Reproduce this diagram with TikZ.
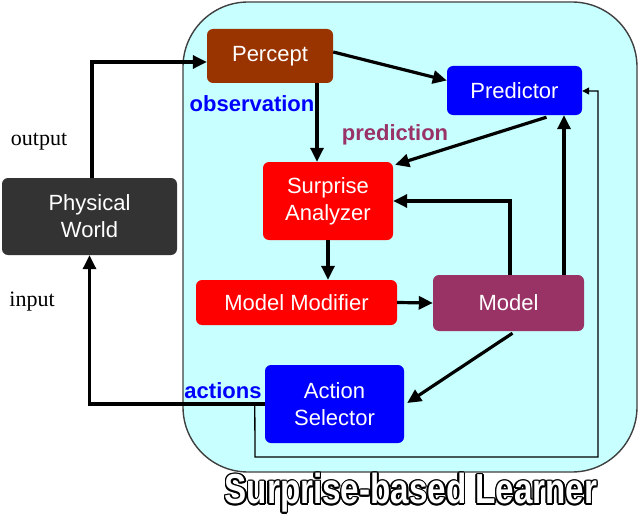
\documentclass[tikz,border=0pt]{standalone}
\usepackage{fontspec}
\setmainfont{Liberation Sans}
\newfontfamily\serifface{Liberation Serif}
\usetikzlibrary{arrows.meta,calc}
\definecolor{cyanfill}{HTML}{C8FFFF}
\definecolor{brownbox}{HTML}{993300}
\definecolor{bluebox}{HTML}{0000FF}
\definecolor{redbox}{HTML}{FF0000}
\definecolor{plumbox}{HTML}{993366}
\definecolor{darkbox}{HTML}{333333}
\newcommand\ttltext{\scalebox{0.79}[1]{\fontsize{42}{42}\selectfont\bfseries Surprise-based Learner}}
\begin{document}
\begin{tikzpicture}[x=1pt,y=-1pt,
  box/.style={rectangle, rounded corners=6pt, text=white, align=center, inner sep=0pt,
    font=\fontsize{22}{27}\selectfont},
  arr/.style={line width=3.2pt, -{Triangle[length=14pt,width=13pt]}},
  thinarr/.style={line width=1.3pt, -{Triangle[length=7pt,width=7pt]}},
  lbl/.style={font=\fontsize{22}{26}\selectfont\bfseries, inner sep=0pt},
  slbl/.style={font=\serifface\fontsize{22}{26}\selectfont, inner sep=0pt}]
\useasboundingbox (0,0) rectangle (640,519);
\node[draw=black!75, line width=1.4pt, fill=cyanfill, rounded corners=65pt,
  minimum width=454pt, minimum height=470pt, inner sep=0pt] (learner) at (410,237) {};
\node[box, fill=brownbox, minimum width=126pt, minimum height=54pt] (percept) at (270,56) {Percept};
\node[box, fill=bluebox, minimum width=135pt, minimum height=49pt] (predictor) at (514.5,90.5) {Predictor};
\node[box, fill=redbox, minimum width=130pt, minimum height=78pt] (surprise) at (328,201) {Surprise\\Analyzer};
\node[box, fill=redbox, minimum width=201pt, minimum height=45pt] (modmod) at (296.5,302.5) {Model Modifier};
\node[box, fill=plumbox, minimum width=151pt, minimum height=56pt] (model) at (508.5,303) {Model};
\node[box, fill=bluebox, minimum width=139pt, minimum height=78pt] (action) at (334.5,404) {Action\\Selector};
\node[box, fill=darkbox, minimum width=175pt, minimum height=77pt] (phys) at (89.5,216.5) {Physical\\World};
% labels
\node[lbl, text=bluebox] (obs) at (252,104) {observation};
\node[lbl, text=plumbox] (pred) at (395,135) {prediction};
\node[lbl, text=bluebox] (acts) at (223,391) {actions};
\node[slbl] (outl) at (39,142) {output};
\node[slbl] (inl) at (32,302) {input};
% connectors
\draw[arr] ([xshift=2.5pt]phys.north) |- ([yshift=-6pt]percept.west);
\draw[arr] (action.west) -| (phys.south);
\draw[arr] ([yshift=4pt]percept.east) -- ([yshift=10pt]predictor.west);
\coordinate (obsTop) at ($(percept.south)+(47,0)$);
\draw[arr] (obsTop) -- (obsTop |- surprise.north);
\draw[arr] ($(predictor.south)+(32,2)$) -- ($(surprise.north east)+(2,3)$);
\draw[arr] (surprise.south) -- (surprise.south |- modmod.north);
\draw[arr] (modmod.east) -- (model.west);
\draw[arr] ([xshift=1.5pt]model.north) |- (surprise.east);
\coordinate (mTop) at ($(model.north)+(55.5,0)$);
\draw[arr] (mTop) -- (mTop |- predictor.south);
\draw[arr] ($(model.south)+(4,2)$) -- ($(action.east)+(3,-1)$);
\coordinate (loopStart) at ($(action.west)+(-10,1)$);
\draw[thinarr] (loopStart) -- (255,457) -- (598,457) -- (598,91) -- ([yshift=-0.5pt]predictor.east);
% title: white letters with a black outline
\foreach \a in {0,30,...,330} \node[text=black, inner sep=0pt] at ($(411,493)+(\a:1.7pt)$) {\ttltext};
\node[text=white, inner sep=0pt] (title) at (411,493) {\ttltext};
\end{tikzpicture}
\end{document}
